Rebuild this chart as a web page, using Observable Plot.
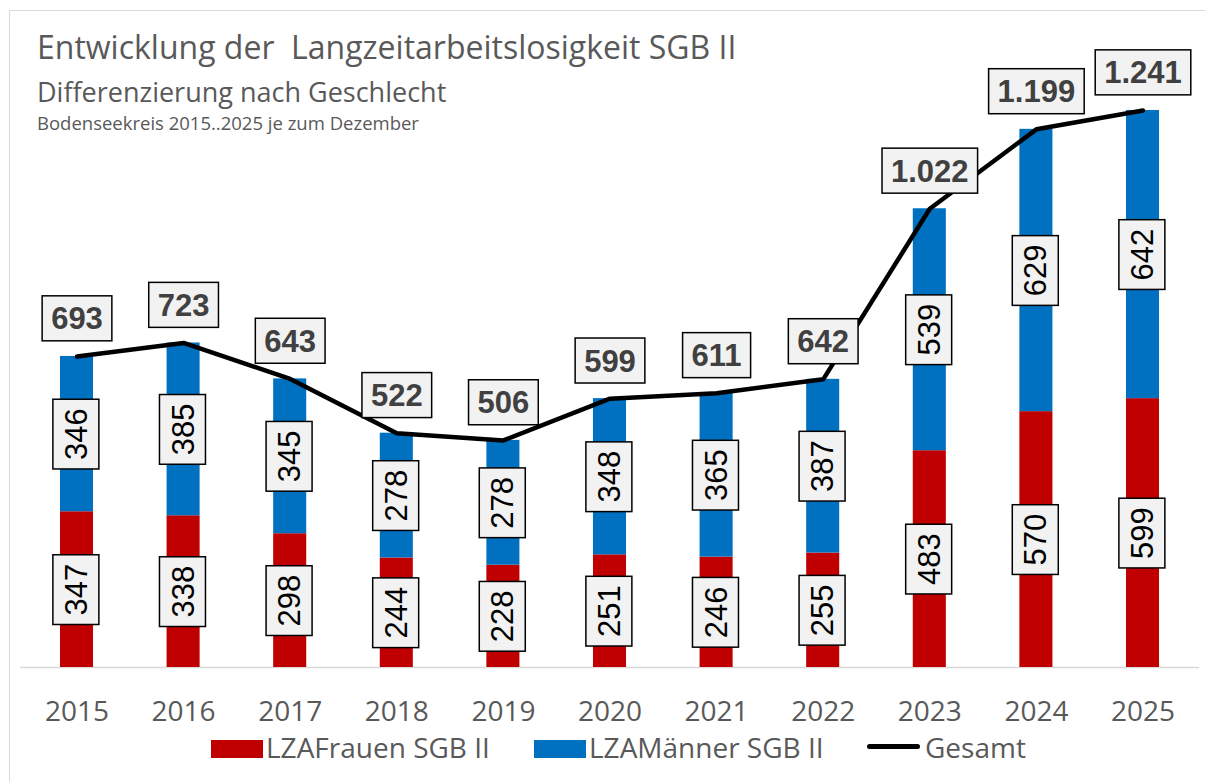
<!DOCTYPE html>
<html><head><meta charset="utf-8">
<script src="https://cdn.jsdelivr.net/npm/d3@7"></script>
<script src="https://cdn.jsdelivr.net/npm/@observablehq/plot@0.6"></script>
<style>
body{margin:0;background:#fff;}
#wrap{position:relative;width:1205px;height:782px;overflow:hidden;font-family:"Open Sans",sans-serif;color:#595959;background:#fff;}
#frame{position:absolute;left:9px;top:10px;width:1300px;height:900px;border:1.5px solid #d9d9d9;box-sizing:border-box;}
#chart{position:absolute;left:0;top:0;}
.t{position:absolute;left:37px;white-space:pre;line-height:1;}
#title{top:30.5px;font-size:32px;}
#subtitle{top:78px;font-size:27px;}
#note{top:113.5px;font-size:18.5px;}
.lg{position:absolute;white-space:pre;line-height:1;font-size:28px;top:733px;}
.sw{position:absolute;}
</style></head><body>
<div id="wrap">
  <div id="frame"></div>
  <div id="chart"></div>
  <div class="t" id="title">Entwicklung der  Langzeitarbeitslosigkeit SGB II</div>
  <div class="t" id="subtitle">Differenzierung nach Geschlecht</div>
  <div class="t" id="note">Bodenseekreis 2015..2025 je zum Dezember</div>
  <div id="legend"></div>
</div>
<script>
const years = ["2015","2016","2017","2018","2019","2020","2021","2022","2023","2024","2025"];
const seriesNames = ["LZAFrauen SGB II", "LZAMänner SGB II"];
const lineName = "Gesamt";
const frauen = [347, 338, 298, 244, 228, 251, 246, 255, 483, 570, 599];
const maenner = [346, 385, 345, 278, 278, 348, 365, 387, 539, 629, 642];
const gesamt = [693, 723, 643, 522, 506, 599, 611, 642, 1022, 1199, 1241];
const colors = ["#C00000", "#0070C0"];
const lineColor = "#000000";

const fmt = d3.formatLocale({decimal: ",", thousands: ".", grouping: [3], currency: ["", " €"]}).format(",d");

const stacked = years.flatMap((yr, i) => [
  {year: yr, series: seriesNames[0], value: frauen[i]},
  {year: yr, series: seriesNames[1], value: maenner[i]}
]);
const totals = years.map((yr, i) => ({year: yr, total: gesamt[i]}));

const chart = Plot.plot({
  width: 1205, height: 782,
  marginTop: 83.5, marginBottom: 115, marginLeft: 20, marginRight: 6,
  style: {fontFamily: '"Open Sans", sans-serif', background: "transparent", overflow: "visible", color: "#595959"},
  x: {domain: years, paddingInner: 0.69, paddingOuter: 0.375, round: false, label: null},
  y: {domain: [0, 1300], axis: null},
  color: {domain: seriesNames, range: colors},
  marks: [
    Plot.ruleY([0], {stroke: "#d9d9d9", strokeWidth: 1.5}),
    Plot.barY(stacked, {x: "year", y: "value", fill: "series"}),
    Plot.line(totals, {x: "year", y: "total", stroke: lineColor, strokeWidth: 4.5, strokeLinecap: "round", strokeLinejoin: "round"}),
    Plot.text(stacked, Plot.stackY({x: "year", y: "value", z: "series", text: d => fmt(d.value), rotate: -90,
      fontSize: 31, fontFamily: "Liberation Sans, Arial, sans-serif", fill: "#000"})),
    Plot.text(totals, {x: "year", y: "total", text: d => fmt(d.total), dy: -37,
      fontSize: 31, fontWeight: "bold", fontFamily: "Liberation Sans, Arial, sans-serif", fill: "#404040"}),
    Plot.axisX({tickSize: 0, tickPadding: 34, fontSize: 28, label: null})
  ]
});
document.getElementById("chart").appendChild(chart);

function boxify(group, padX, h) {
  if (!group) return;
  group.querySelectorAll("text").forEach(t => {
    const bb = t.getBBox();
    const fs = 31;
    const r = document.createElementNS("http://www.w3.org/2000/svg", "rect");
    const cy = bb.y + 0.547 * fs;
    r.setAttribute("x", bb.x - padX);
    r.setAttribute("width", bb.width + 2 * padX);
    r.setAttribute("y", cy - h / 2);
    r.setAttribute("height", h);
    r.setAttribute("fill", "#f2f2f2");
    r.setAttribute("stroke", "#000");
    r.setAttribute("stroke-width", 1.5);
    const tr = t.getAttribute("transform");
    if (tr) r.setAttribute("transform", tr);
    t.parentNode.insertBefore(r, t);
  });
}
const textGroups = chart.querySelectorAll('g[aria-label="text"]');
boxify(textGroups[0], 9, 46);
boxify(textGroups[1], 9, 45);

// legend
const legend = document.getElementById("legend");
const items = [
  {name: seriesNames[0], color: colors[0], kind: "bar", left: 211},
  {name: seriesNames[1], color: colors[1], kind: "bar", left: 534},
  {name: lineName, color: lineColor, kind: "line", left: 867}
];
for (const it of items) {
  const sw = document.createElement("div");
  sw.className = "sw";
  sw.style.left = it.left + "px";
  sw.style.background = it.color;
  if (it.kind === "bar") { sw.style.top = "740px"; sw.style.width = "52px"; sw.style.height = "18px"; }
  else { sw.style.top = "744px"; sw.style.width = "53px"; sw.style.height = "5px"; sw.style.borderRadius = "3px"; }
  legend.appendChild(sw);
  const tx = document.createElement("div");
  tx.className = "lg";
  tx.style.left = (it.left + (it.kind === "bar" ? 55 : 58)) + "px";
  tx.textContent = it.name;
  legend.appendChild(tx);
}
</script>
</body></html>
